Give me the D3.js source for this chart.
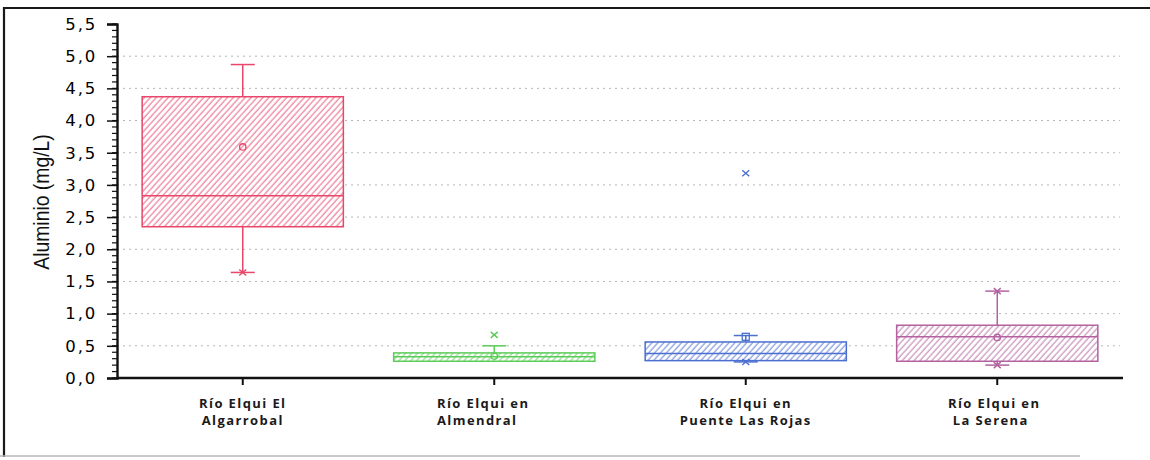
<!DOCTYPE html>
<html>
<head>
<meta charset="utf-8">
<script src="https://cdn.jsdelivr.net/npm/d3@7/dist/d3.min.js"></script>
<style>
  html, body { margin: 0; padding: 0; background: #fff; }
  svg { display: block; }
</style>
</head>
<body>
<svg id="chart" width="1150" height="460"></svg>
<script>
// Aluminium concentration (mg/L) per sampling station, box-and-whisker summary
const stations = ["Río Elqui El Algarrobal", "Río Elqui en Almendral", "Río Elqui en Puente Las Rojas", "Río Elqui en La Serena"];
const labelLines = [["Río Elqui El", "Algarrobal"], ["Río Elqui en", "Almendral"], ["Río Elqui en", "Puente Las Rojas"], ["Río Elqui en", " La Serena"]];
const whiskerLow  = [1.64, 0.26, 0.25, 0.20];
const q1          = [2.35, 0.26, 0.27, 0.26];
const median      = [2.83, 0.33, 0.38, 0.64];
const q3          = [4.37, 0.39, 0.56, 0.82];
const whiskerHigh = [4.87, 0.50, 0.66, 1.35];
const mean        = [3.59, 0.34, 0.64, 0.63];
const crossMarks  = [[1.64], [0.67], [3.18, 0.25], [0.20, 1.35]];
const meanShape   = ["circle", "circle", "square", "circle"];
const colors      = ["#e8476b", "#5ccc58", "#4b6fd0", "#b3629f"];
const yTicks      = [0, 0.5, 1, 1.5, 2, 2.5, 3, 3.5, 4, 4.5, 5, 5.5];
const yGrid       = [0.5, 1, 1.5, 2, 2.5, 3, 3.5, 4, 4.5, 5];

(function () {
const svg = d3.select("#chart");
const plotLeft = 117, plotRight = 1123, plotTop = 24, plotBottom = 378;

const x = d3.scaleBand().domain(stations).range([plotLeft, plotRight]).paddingInner(0.2).paddingOuter(0.1);
const y = d3.scaleLinear().domain([0, 5.5]).range([plotBottom, plotTop]);
const fmt = v => d3.format(".1f")(v).replace(".", ",");

// outer frame
svg.append("path").attr("d", "M4,457V8H1150").attr("fill", "none").attr("stroke", "#1a1a1a").attr("stroke-width", 2.2);
svg.append("line").attr("x1", 0).attr("x2", 1080).attr("y1", 456).attr("y2", 456).attr("stroke", "#b8b8b8").attr("stroke-width", 1.5);

// hatch patterns
const defs = svg.append("defs");
colors.forEach((c, i) => {
  const p = defs.append("pattern").attr("id", "hatch" + i).attr("patternUnits", "userSpaceOnUse")
    .attr("width", 4.4).attr("height", 4.4).attr("patternTransform", "rotate(42)");
  p.append("rect").attr("width", 4.4).attr("height", 4.4).attr("fill", "#fff");
  p.append("line").attr("x1", 1).attr("x2", 1).attr("y1", 0).attr("y2", 4.4)
    .attr("stroke", c).attr("stroke-width", 1).attr("stroke-opacity", 0.85);
});

// dotted grid
svg.append("g").selectAll("line").data(yGrid).join("line")
  .attr("x1", plotLeft).attr("x2", 1120).attr("y1", d => y(d)).attr("y2", d => y(d))
  .attr("stroke", "#b5b5b5").attr("stroke-width", 1).attr("stroke-dasharray", "2,4");

// boxes
const g = svg.append("g");
stations.forEach((s, i) => {
  const c = colors[i];
  const x0 = x(s), w = x.bandwidth(), cx = x0 + w / 2;
  const gi = g.append("g");
  // whiskers
  gi.append("line").attr("x1", cx).attr("x2", cx).attr("y1", y(q3[i])).attr("y2", y(whiskerHigh[i])).attr("stroke", c).attr("stroke-width", 1.5);
  gi.append("line").attr("x1", cx).attr("x2", cx).attr("y1", y(q1[i])).attr("y2", y(whiskerLow[i])).attr("stroke", c).attr("stroke-width", 1.5);
  [whiskerHigh[i], whiskerLow[i]].forEach(v => {
    gi.append("line").attr("x1", cx - 12).attr("x2", cx + 12).attr("y1", y(v)).attr("y2", y(v)).attr("stroke", c).attr("stroke-width", 1.5);
  });
  // box
  gi.append("rect").attr("x", x0).attr("width", w).attr("y", y(q3[i])).attr("height", y(q1[i]) - y(q3[i]))
    .attr("fill", "url(#hatch" + i + ")").attr("stroke", c).attr("stroke-width", 1.5);
  gi.append("line").attr("x1", x0).attr("x2", x0 + w).attr("y1", y(median[i])).attr("y2", y(median[i])).attr("stroke", c).attr("stroke-width", 1.5);
  // mean marker
  if (meanShape[i] === "square") {
    gi.append("rect").attr("x", cx - 3.5).attr("y", y(mean[i]) - 3.5).attr("width", 7).attr("height", 7)
      .attr("fill", "none").attr("stroke", c).attr("stroke-width", 1.3);
  } else {
    gi.append("circle").attr("cx", cx).attr("cy", y(mean[i])).attr("r", 3.2)
      .attr("fill", "none").attr("stroke", c).attr("stroke-width", 1.3);
  }
  // cross markers
  crossMarks[i].forEach(v => {
    const yy = y(v);
    gi.append("path").attr("d", `M${cx - 3.5},${yy - 3}L${cx + 3.5},${yy + 3}M${cx - 3.5},${yy + 3}L${cx + 3.5},${yy - 3}`)
      .attr("stroke", c).attr("stroke-width", 1.4).attr("fill", "none");
  });
});

// y axis with minor ticks
const minor = d3.range(0, 5.51, 0.1);
svg.append("g").selectAll("line").data(minor).join("line")
  .attr("x1", plotLeft - 5).attr("x2", plotLeft).attr("y1", d => y(d)).attr("y2", d => y(d))
  .attr("stroke", "#111").attr("stroke-width", 1.2);
const yAxis = svg.append("g").attr("transform", `translate(${plotLeft},0)`)
  .call(d3.axisLeft(y).tickValues(yTicks).tickFormat(fmt).tickSize(10).tickPadding(10));
yAxis.select(".domain").attr("stroke", "#111").attr("stroke-width", 2.4);
yAxis.selectAll(".tick line").attr("stroke", "#111").attr("stroke-width", 1.5);
yAxis.selectAll(".tick text").attr("font-family", "DejaVu Sans, sans-serif").attr("font-size", 16.5)
  .attr("letter-spacing", 1.8).attr("fill", "#000");

// x axis
const xAxis = svg.append("g").attr("transform", `translate(0,${plotBottom})`)
  .call(d3.axisBottom(x).tickSize(7).tickFormat(""));
xAxis.select(".domain").attr("stroke", "#111").attr("stroke-width", 2.4).attr("d", `M${plotLeft},0H${plotRight}`);
xAxis.selectAll(".tick line").attr("stroke", "#111").attr("stroke-width", 2);

// category labels, two lines each
const labelAnchor = ["middle", "start", "middle", "start"];
const labelX = [x(stations[0]) + x.bandwidth() / 2, 437, x(stations[2]) + x.bandwidth() / 2, 948];
labelLines.forEach((lines, i) => {
  lines.forEach((l, k) => {
    svg.append("text").attr("font-family", "Open Sans, sans-serif").attr("font-weight", "bold")
      .attr("font-size", 13).attr("letter-spacing", 1.4).attr("fill", "#1a1a1a")
      .attr("text-anchor", labelAnchor[i]).attr("xml:space", "preserve")
      .attr("x", labelX[i]).attr("y", 408 + k * 16.5).text(l);
  });
});

// y axis title (condensed)
svg.append("text").attr("transform", "translate(49,202) rotate(-90) scale(0.86,1)")
  .attr("text-anchor", "middle").attr("font-family", "Liberation Sans, Arial, sans-serif")
  .attr("font-size", 22.5).attr("fill", "#111").text("Aluminio (mg/L)");
})();
</script>
</body>
</html>
